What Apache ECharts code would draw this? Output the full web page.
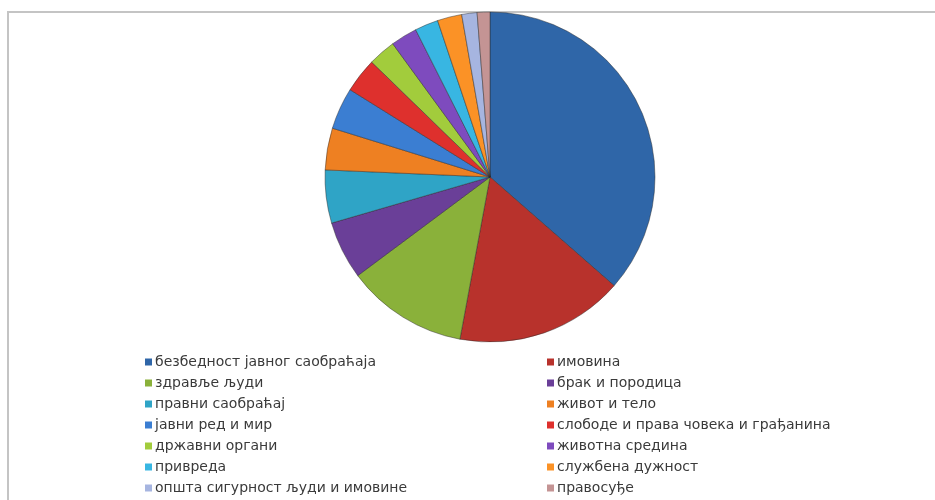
<!DOCTYPE html>
<html>
<head>
<meta charset="utf-8">
<script src="https://cdn.jsdelivr.net/npm/echarts@6/dist/echarts.min.js"></script>
<style>
  html, body { margin: 0; padding: 0; background: #fff; }
  #chart { width: 935px; height: 500px; }
</style>
</head>
<body>
<div id="chart"></div>
<script>
// categories in the order they go round the pie (clockwise from 12 o'clock)
const categories = [
	'безбедност јавног саобраћаја',
	'имовина',
	'здравље људи',
	'брак и породица',
	'правни саобраћај',
	'живот и тело',
	'јавни ред и мир',
	'слободе и права човека и грађанина',
	'државни органи',
	'животна средина',
	'привреда',
	'службена дужност',
	'општа сигурност људи и имовине',
	'правосуђе'
];
// share of each category, %
const values = [36.5, 16.5, 11.9, 5.7, 5.2, 4.1, 4.1, 3.4, 2.7, 2.6, 2.3, 2.4, 1.5, 1.25];
const colors = [
	'#2F66A8', '#B8322C', '#8AB13A', '#6A3F98', '#2FA4C6', '#EE8022',
	'#3B7ED2', '#DE302D', '#A2CC3C', '#7E4BBE', '#38B6E2', '#FB9226',
	'#A6B5E0', '#C49494'
];

const chart = echarts.init(document.getElementById('chart'));

const legendBase = {
	orient: 'vertical',
	top: 350,
	itemWidth: 7,
	itemHeight: 7,
	itemGap: 7,
	icon: 'rect',
	selectedMode: false,
	itemStyle: { borderWidth: 0 },
	textStyle: { fontFamily: 'DejaVu Sans', fontSize: 14, color: '#3a3a3a', padding: [0, 0, 0, -2] }
};

chart.setOption({
	color: colors,
	animation: false,
	graphic: [{
		type: 'polyline',
		shape: { points: [[8, 500], [8, 12], [935, 12]] },
		style: { stroke: '#c4c4c4', lineWidth: 2, fill: null }
	}],
	legend: [
		// left column: 1st, 3rd, 5th ... entries; right column: the rest
		Object.assign({}, legendBase, { left: 140, data: categories.filter((c, i) => i % 2 === 0) }),
		Object.assign({}, legendBase, { left: 542, data: categories.filter((c, i) => i % 2 === 1) })
	],
	series: [{
		type: 'pie',
		center: [490, 177],
		radius: 165,
		startAngle: 90,
		clockwise: true,
		label: { show: false },
		labelLine: { show: false },
		itemStyle: { borderColor: 'rgba(40,40,40,0.45)', borderWidth: 1 },
		data: categories.map((name, i) => ({ name, value: values[i] }))
	}]
});
</script>
</body>
</html>
